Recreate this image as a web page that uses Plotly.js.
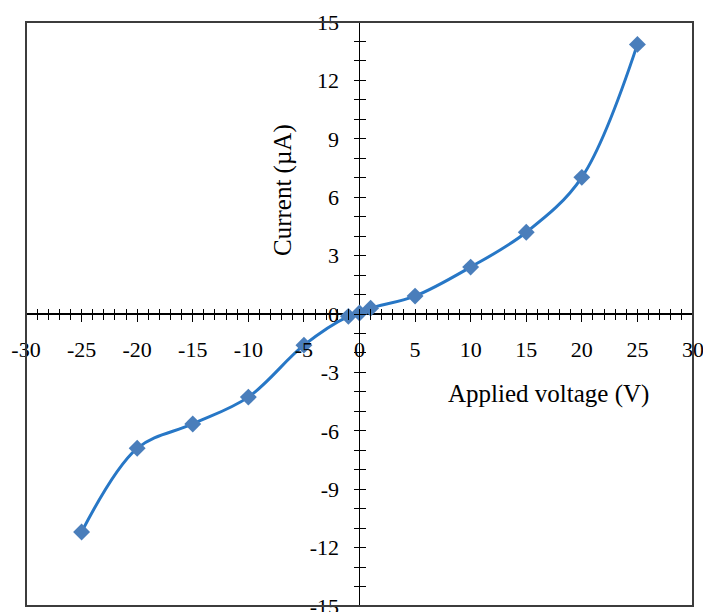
<!DOCTYPE html>
<html>
<head>
<meta charset="utf-8">
<script src="https://cdn.plot.ly/plotly-3.0.1.min.js"></script>
<style>html,body{margin:0;padding:0;background:#fff;}#chart{width:703px;height:612px;}</style>
</head>
<body>
<div id="chart"></div>
<script>
const voltage = [-25, -20, -15, -10, -5, -1, 0, 1, 5, 10, 15, 20, 25];
const current = [-11.2, -6.9, -5.65, -4.27, -1.6, -0.12, 0.05, 0.3, 0.92, 2.41, 4.2, 7.02, 13.85];
const xTickVals = [-30, -25, -20, -15, -10, -5, 0, 5, 10, 15, 20, 25, 30];
const xTickText = ['-30', '-25', '-20', '-15', '-10', '-5', '0', '5', '10', '15', '20', '25', '30'];
const yTickVals = [-15, -12, -9, -6, -3, 0, 3, 6, 9, 12, 15];
const yTickText = ['-15', '-12', '-9', '-6', '-3', '0', '3', '6', '9', '12', '15'];
const xTitle = 'Applied voltage (V)';
const yTitle = 'Current (\u00B5A)';

const W = 703, H = 612;
const M = {l: 26, r: 10, t: 22, b: 6};
const pw = W - M.l - M.r, ph = H - M.t - M.b;
const off = 6;
const font = {family: 'Liberation Serif, Times New Roman, serif', size: 22, color: '#000'};
const titleFont = {family: 'Liberation Serif, Times New Roman, serif', size: 25, color: '#000'};
const eps = 0.0005;

const trace = {
  x: voltage, y: current, type: 'scatter', mode: 'lines+markers',
  line: {shape: 'spline', smoothing: 1, color: '#2777c6', width: 3},
  marker: {symbol: 'diamond', size: 13, color: '#4a7ebb'},
  cliponaxis: false
};

const layout = {
  width: W, height: H,
  margin: M,
  paper_bgcolor: '#fff', plot_bgcolor: '#fff',
  showlegend: false,
  font: font,
  xaxis: {
    range: [-30 - eps, 30 + eps], anchor: 'free', position: 0.5 + off / ph,
    showgrid: false, showline: false,
    zeroline: true, zerolinecolor: '#000', zerolinewidth: 1.5,
    tickmode: 'array', tickvals: xTickVals, ticktext: xTickText,
    ticks: 'outside', ticklen: 13, tickwidth: 1, tickcolor: '#000',
    minor: {dtick: 1, ticks: 'outside', ticklen: 11, tickwidth: 1, tickcolor: '#000', showgrid: false},
    ticklabelstandoff: 9, ticklabeloverflow: 'allow',
    tickfont: font, fixedrange: true
  },
  yaxis: {
    range: [-15 - eps, 15 + eps], anchor: 'free', position: 0.5 + off / pw,
    showgrid: false, showline: false,
    zeroline: true, zerolinecolor: '#000', zerolinewidth: 1.5,
    tickmode: 'array', tickvals: yTickVals, ticktext: yTickText,
    ticks: 'outside', ticklen: 12, tickwidth: 1, tickcolor: '#000',
    minor: {dtick: 1, ticks: 'outside', ticklen: 12, tickwidth: 1, tickcolor: '#000', showgrid: false},
    ticklabelstandoff: 10, ticklabeloverflow: 'allow',
    tickfont: font, fixedrange: true
  },
  shapes: [{
    type: 'rect', xref: 'paper', yref: 'paper', x0: 0, x1: 1, y0: 0, y1: 1,
    line: {color: '#3c3c3c', width: 2}, layer: 'above'
  }],
  annotations: [
    {text: xTitle, xref: 'paper', yref: 'paper', x: (548 - M.l) / pw, y: (H - M.b - 394) / ph,
     showarrow: false, font: titleFont, xanchor: 'center', yanchor: 'middle'},
    {text: yTitle, xref: 'paper', yref: 'paper', x: (283 - M.l) / pw, y: (H - M.b - 190) / ph,
     showarrow: false, font: titleFont, textangle: -90, xanchor: 'center', yanchor: 'middle'}
  ]
};

Plotly.newPlot('chart', [trace], layout, {staticPlot: true, displayModeBar: false});
</script>
</body>
</html>
